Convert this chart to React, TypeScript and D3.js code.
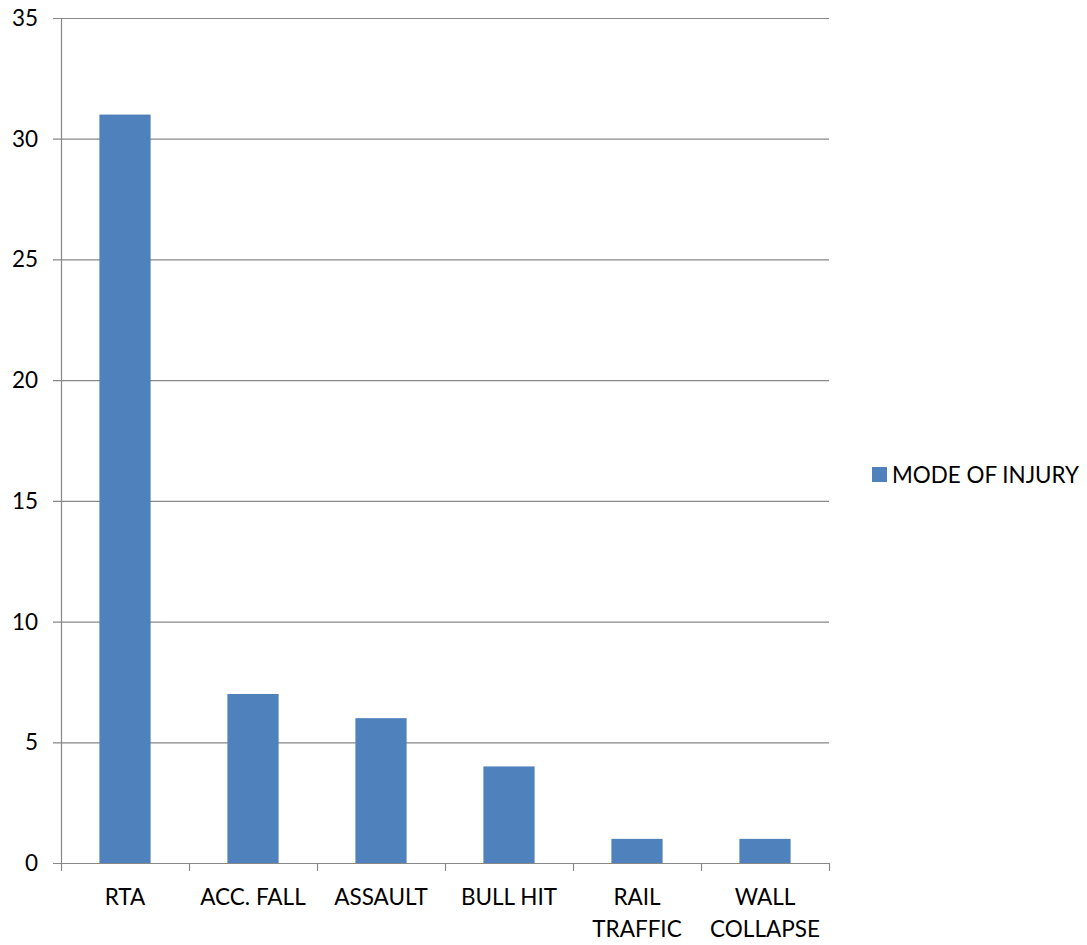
import React, { useEffect, useRef } from "react";
import * as d3 from "d3";

const categories: string[][] = [
  ["RTA"],
  ["ACC. FALL"],
  ["ASSAULT"],
  ["BULL HIT"],
  ["RAIL", "TRAFFIC"],
  ["WALL", "COLLAPSE"],
];
const values: number[] = [31, 7, 6, 4, 1, 1];
const yTicks: number[] = [0, 5, 10, 15, 20, 25, 30, 35];
const seriesName = "MODE OF INJURY";

const W = 1087;
const H = 945;
const left = 61;
const right = 829;
const top = 18;
const bottom = 863;
const FONT = "Lato, Carlito, Calibri, sans-serif";
const FS = 22.5;
const BAR = "#4F81BD";
const GRID = "#888888";

export default function App() {
  const ref = useRef<SVGSVGElement | null>(null);

  useEffect(() => {
    const svg = d3.select(ref.current);
    svg.selectAll("*").remove();

    const x = d3
      .scaleBand<number>()
      .domain(d3.range(categories.length))
      .range([left, right])
      .paddingInner(0.6)
      .paddingOuter(0.3);
    const xEdge = d3
      .scaleLinear()
      .domain([0, categories.length])
      .range([left, right]);
    const y = d3.scaleLinear().domain([0, 35]).range([bottom, top]);

    // horizontal gridlines with short ticks left of the axis
    svg
      .append("g")
      .selectAll("line")
      .data(yTicks)
      .join("line")
      .attr("x1", left - 8)
      .attr("x2", right)
      .attr("y1", (d) => y(d) + 0.5)
      .attr("y2", (d) => y(d) + 0.5)
      .attr("stroke", GRID)
      .attr("stroke-width", 1.2);

    // y axis line
    svg
      .append("line")
      .attr("x1", left + 0.5)
      .attr("x2", left + 0.5)
      .attr("y1", top)
      .attr("y2", bottom)
      .attr("stroke", GRID)
      .attr("stroke-width", 1.2);

    // x tick marks at category boundaries
    svg
      .append("g")
      .selectAll("line")
      .data(d3.range(categories.length + 1))
      .join("line")
      .attr("x1", (d) => xEdge(d) + 0.5)
      .attr("x2", (d) => xEdge(d) + 0.5)
      .attr("y1", bottom)
      .attr("y2", bottom + 8)
      .attr("stroke", GRID)
      .attr("stroke-width", 1.2);

    // y tick labels
    svg
      .append("g")
      .selectAll("text")
      .data(yTicks)
      .join("text")
      .attr("x", 38)
      .attr("y", (d) => y(d) + 8)
      .attr("text-anchor", "end")
      .attr("font-family", FONT)
      .attr("font-size", FS)
      .attr("fill", "#000")
      .text((d) => String(d));

    // bars
    svg
      .append("g")
      .selectAll("rect")
      .data(values)
      .join("rect")
      .attr("x", (_, i) => x(i)!)
      .attr("width", x.bandwidth())
      .attr("y", (d) => y(d))
      .attr("height", (d) => bottom - y(d))
      .attr("fill", BAR);

    // category labels
    const labels = svg
      .append("g")
      .selectAll("text")
      .data(categories)
      .join("text")
      .attr("text-anchor", "middle")
      .attr("font-family", FONT)
      .attr("font-size", FS)
      .attr("fill", "#000");
    labels.each(function (lines, i) {
      const cx = x(i)! + x.bandwidth() / 2;
      d3.select(this)
        .selectAll("tspan")
        .data(lines)
        .join("tspan")
        .attr("x", cx)
        .attr("y", (_, j) => 905 + j * 32)
        .text((t) => t);
    });

    // legend
    const lg = svg.append("g");
    lg.append("rect")
      .attr("x", 872)
      .attr("y", 467)
      .attr("width", 15)
      .attr("height", 15)
      .attr("fill", BAR);
    lg.append("text")
      .attr("x", 892)
      .attr("y", 483)
      .attr("font-family", FONT)
      .attr("font-size", FS)
      .attr("textLength", 187)
      .attr("lengthAdjust", "spacingAndGlyphs")
      .attr("fill", "#000")
      .text(seriesName);
  }, []);

  return (
    <svg
      ref={ref}
      width={W}
      height={H}
      style={{ position: "absolute", left: 0, top: 0, background: "#fff" }}
    />
  );
}
